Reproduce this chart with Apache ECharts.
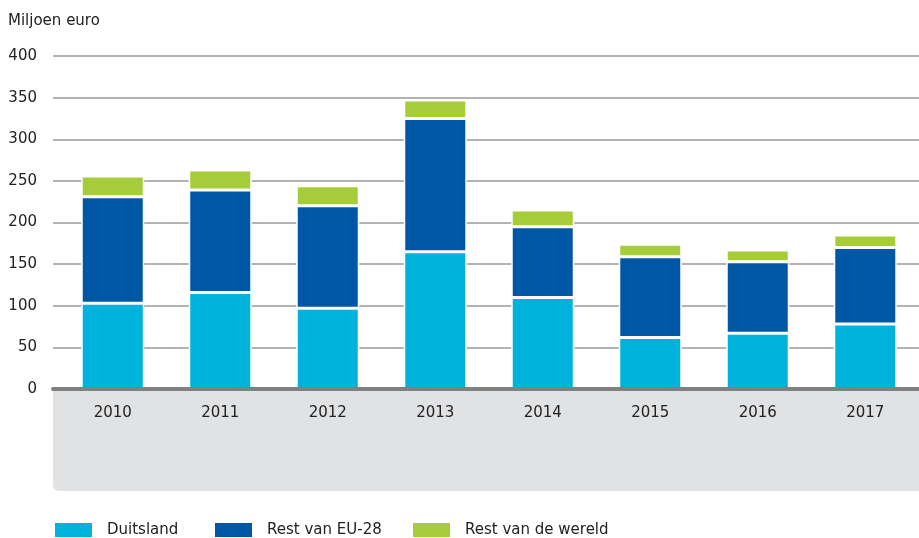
<!DOCTYPE html>
<html>
<head>
<meta charset="utf-8">
<script src="https://cdn.jsdelivr.net/npm/echarts@6/dist/echarts.min.js"></script>
<style>
  html, body { margin: 0; padding: 0; background: #fff; }
  #chart { width: 919px; height: 538px; }
</style>
</head>
<body>
<div id="chart"></div>
<script>
var years = ['2010', '2011', '2012', '2013', '2014', '2015', '2016', '2017'];
var duitsland = [103, 116, 97, 165, 110, 62, 67, 78];
var restEU = [128, 123, 123, 160, 85, 97, 86, 92];
var restWereld = [25, 24, 24, 22, 20, 15, 14, 15];
var yTicks = [0, 400, 50]; // min, max, interval

var font = 'DejaVu Sans';
var textColor = '#222';

function barSeries(name, data, color) {
    return {
        name: name,
        type: 'bar',
        stack: 'total',
        xAxisIndex: 0,
        yAxisIndex: 0,
        barWidth: 63,
        itemStyle: {
            color: color,
            borderColor: '#fff',
            borderWidth: 1.5
        },
        data: data
    };
}

function legendFor(name, left) {
    return {
        data: [name],
        left: left,
        top: 521,
        padding: 0,
        itemWidth: 39,
        itemHeight: 16,
        icon: 'rect',
        selectedMode: false,
        textStyle: { fontFamily: font, fontSize: 15, color: textColor, padding: [0, 0, 0, 9] }
    };
}

var chart = echarts.init(document.getElementById('chart'));
var option = {
    animation: false,
    title: {
        text: 'Miljoen euro',
        left: 3,
        top: 9,
        textStyle: { fontFamily: font, fontSize: 15, fontWeight: 'normal', color: textColor }
    },
    legend: [
        legendFor('Duitsland', 53),
        legendFor('Rest van EU-28', 213),
        legendFor('Rest van de wereld', 411)
    ],
    graphic: [
        {
            type: 'rect',
            z: -10,
            shape: { x: 53, y: 391, width: 866, height: 100, r: [0, 0, 0, 6] },
            style: { fill: '#e1e2e4' }
        }
    ],
    grid: [
        { left: 59, right: -12, top: 56, bottom: 149 },
        { left: 53, right: 0, top: 56, bottom: 149 }
    ],
    xAxis: [
        {
            gridIndex: 0,
            type: 'category',
            data: years,
            axisLine: { show: false },
            axisTick: { show: false },
            axisLabel: { fontFamily: font, fontSize: 15, color: textColor, margin: 17 }
        },
        {
            gridIndex: 1,
            type: 'category',
            data: years,
            z: 5,
            axisLine: { lineStyle: { color: '#808080', width: 4 } },
            axisTick: { show: false },
            axisLabel: { show: false }
        }
    ],
    yAxis: [
        {
            gridIndex: 0,
            type: 'value',
            min: yTicks[0],
            max: yTicks[1],
            interval: yTicks[2],
            show: false,
            splitLine: { show: false }
        },
        {
            gridIndex: 1,
            type: 'value',
            min: yTicks[0],
            max: yTicks[1],
            interval: yTicks[2],
            axisLine: { show: false },
            axisTick: { show: false },
            axisLabel: { fontFamily: font, fontSize: 15, color: textColor, margin: 16 },
            splitLine: { lineStyle: { color: '#9a9a9a', width: 1.5 } }
        }
    ],
    series: [
        barSeries('Duitsland', duitsland, '#00b3dc'),
        barSeries('Rest van EU-28', restEU, '#0057a6'),
        barSeries('Rest van de wereld', restWereld, '#a6cd39')
    ]
};
chart.setOption(option);
</script>
</body>
</html>
